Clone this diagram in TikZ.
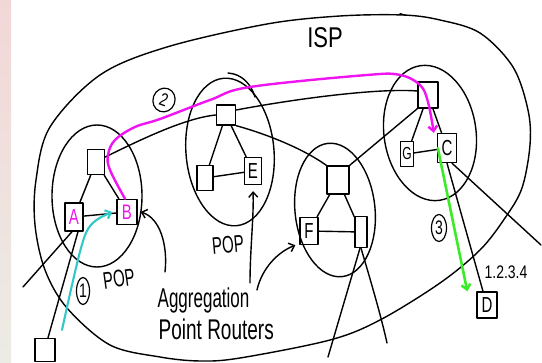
\documentclass[tikz,border=0pt]{standalone}
\usepackage{fontspec}
\usepackage{graphicx}
\setmainfont{Liberation Sans}
\usetikzlibrary{shapes.geometric,arrows.meta,calc}
\definecolor{pinkc}{RGB}{240,20,240}
\definecolor{greenc}{RGB}{60,235,40}
\definecolor{cyanc}{RGB}{50,200,200}
\begin{document}
\begin{tikzpicture}[x=1pt,y=-1pt,line width=1.4pt,line cap=round,line join=round,
  box/.style={draw,rectangle,inner sep=0pt},
  pop/.style={draw,ellipse,inner sep=0pt},
  lbl/.style={inner sep=0pt},
  tip/.style={-{Straight Barb[length=5pt,width=9pt]}},
  num/.style={draw,ellipse,inner sep=0pt,line width=1.2pt,font=\fontsize{14}{14}\selectfont},
  let/.style={inner sep=0pt,font=\fontsize{15}{15}\selectfont}]
\useasboundingbox (0,0) rectangle (542,363);
\fill[top color={rgb,255:red,242;green,215;blue,215},bottom color={rgb,255:red,236;green,236;blue,228},draw=none] (0,0) rectangle (11,363);
% ISP outline
\draw plot[smooth cycle,tension=0.55] coordinates {(403,15) (440,20) (480,33) (513,67) (528,110) (530,145) (522,188) (505,218) (480,250) (440,283) (380,320) (330,340) (240,358) (200,361) (160,357) (110,345) (67,308) (45,270) (35,225) (36,180) (50,127) (100,75) (167,47) (267,24) (340,16)};
\draw[line width=1.2pt] (400,13.5) -- (406,15.5);
\node[lbl] (isp) at (325,38) {\scalebox{1}[1.3]{\fontsize{22}{22}\selectfont ISP}};
% POPs
\node[pop,minimum width=90pt,minimum height=142pt] (pop1) at (97,196) {};
\node[pop,minimum width=88pt,minimum height=148pt,rotate=5] (pop2) at (230,152) {};
\node[pop,minimum width=80pt,minimum height=134pt,rotate=6] (pop3) at (335,210) {};
\node[pop,minimum width=92pt,minimum height=136pt,rotate=8] (pop4) at (430,133) {};
\draw (228,73) .. controls (242,74) and (251,84) .. (255,97);
% routers
\node[box,minimum width=17pt,minimum height=25pt] (r1) at (96,162) {};
\node[box,minimum width=18pt,minimum height=28pt,let,text=pinkc] (A) at (74,217) {\scalebox{1}[1.45]{A}};
\node[box,minimum width=20pt,minimum height=25pt,let,text=pinkc] (B) at (127,212) {\scalebox{1}[1.4]{B}};
\node[box,minimum width=19pt,minimum height=20pt] (r2) at (226,115) {};
\node[box,minimum width=16pt,minimum height=25pt] (m2) at (205,178) {};
\node[box,minimum width=17pt,minimum height=27pt,let] (E) at (253,171) {\scalebox{1}[1.45]{E}};
\node[box,minimum width=22pt,minimum height=28pt] (r3) at (338,180) {};
\node[box,minimum width=18pt,minimum height=27pt,let] (F) at (309,231) {\scalebox{1}[1.45]{F}};
\node[box,minimum width=12pt,minimum height=31pt] (m3) at (361,232) {};
\node[box,minimum width=20pt,minimum height=26pt] (r4) at (428,95) {};
\node[box,minimum width=13pt,minimum height=25pt,let,font=\fontsize{12}{12}\selectfont] (G) at (407,154) {\scalebox{1}[1.45]{G}};
\node[box,minimum width=19pt,minimum height=29pt,let] (C) at (447,148) {\scalebox{1}[1.45]{C}};
\node[box,minimum width=20pt,minimum height=26pt,let] (D) at (487,305) {\scalebox{1}[1.45]{D}};
\node[box,minimum width=20pt,minimum height=23pt] (host) at (45,350) {};
% intra-POP links
\draw (r1) -- (A); \draw (r1) -- (B); \draw (A) -- (B);
\draw (r2) -- (m2); \draw (r2) -- (E); \draw (m2) -- (E);
\draw (r3) -- (F); \draw (r3) -- (m3); \draw (F) -- (m3);
\draw (r4) -- (G); \draw (G) -- (C); \draw (r4) -- (C);
% inter-POP links
\draw ([yshift=5pt]r1.east) .. controls (140,140) and (185,118) .. (r2.west);
\draw ([yshift=5pt]r2.east) .. controls (300,98) and (380,88) .. ([yshift=4pt]r4.west);
\draw (r2.south east) .. controls (270,135) and (305,150) .. (r3.north west);
\draw (r3.north east) -- (r4.south west);
% outside links
\coordinate (ll) at (23,287);
\coordinate (re) at (541,245);
\coordinate (bl) at (328,357);
\coordinate (br) at (387,343);
\draw ([xshift=-2pt]A.south) -- (ll);
\draw ([xshift=4pt]A.south) -- ([xshift=3pt]host.north);
\draw (m3.south) .. controls (372,285) and (382,320) .. (br);
\draw ([xshift=-1pt]m3.south) -- (bl);
\draw (C.south) -- ([xshift=-4pt]D.north);
\draw ([xshift=5pt]C.south) -- (re);
% coloured paths
\draw[pinkc,line width=2.4pt,tip] plot[smooth,tension=0.6] coordinates {([xshift=-2pt]B.north) (110,170) (108,155) (115,140) (135,127) (160,119) (210,100) (250,87) (367,75) (400,75) (420,85) (428,102) ([xshift=-3pt]C.north west)};
\draw[cyanc,line width=2.1pt,tip] plot[smooth,tension=0.6] coordinates {(62,330) (72,285) (81,248) (88,229) (98,219) ([xshift=-4pt]B.west)};
\draw[greenc,line width=2.6pt,tip] ([xshift=1pt]C.west) -- ([xshift=-9pt]D.north west);
% labels
\node[lbl,rotate=8] (pl1) at (119,279) {\scalebox{1}[1.6]{\fontsize{15}{15}\selectfont POP}};
\node[lbl,rotate=5] (pl2) at (228,245) {\scalebox{1}[1.6]{\fontsize{15}{15}\selectfont POP}};
\node[num,minimum width=13pt,minimum height=27pt] (n1) at (83,291) {\scalebox{1}[1.4]{1}};
\node[num,minimum width=22pt,minimum height=24pt,rotate=-20] (n2) at (164,100) {\scalebox{1}[1.3]{2}};
\node[num,minimum width=15pt,minimum height=27pt] (n3) at (439,228) {\scalebox{1}[1.4]{3}};
\node[lbl] (addr) at (506,272) {\scalebox{1}[1.3]{\fontsize{14}{14}\selectfont 1.2.3.4}};
\node[lbl,anchor=base west] (agg) at (157,308) {\scalebox{1}[1.6]{\fontsize{17}{17}\selectfont Aggregation}};
\node[lbl,anchor=base west] (agg2) at (158,340) {\scalebox{1}[1.5]{\fontsize{19}{19}\selectfont Point Routers}};
% arrows from label
\coordinate (aB) at (165,272);
\coordinate (aE) at (250,283);
\coordinate (aF) at (257,290);
\draw[tip] (aB) .. controls (168,245) and (160,218) .. ([xshift=3pt]B.east);
\draw[tip] (aE) .. controls (250,250) and (254,215) .. ([yshift=-6pt]E.south);
\draw[tip] (aF) .. controls (262,268) and (278,252) .. ([xshift=-4pt]F.south west);
\end{tikzpicture}
\end{document}
